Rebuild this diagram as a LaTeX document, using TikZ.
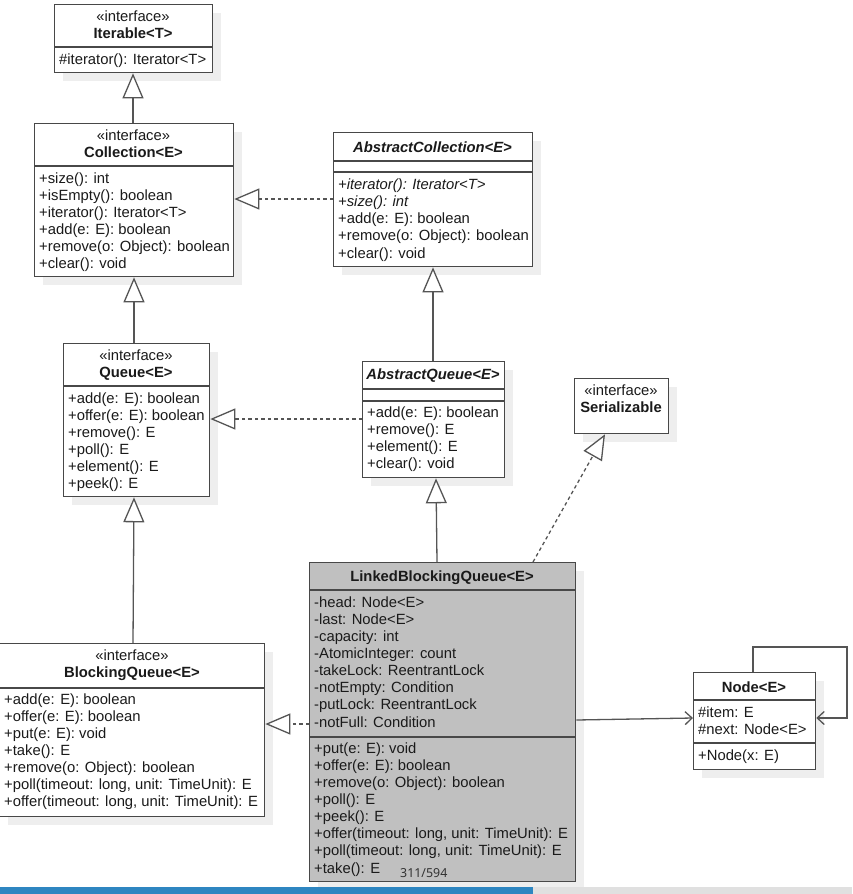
\documentclass[tikz,border=0pt]{standalone}
\usepackage{fontspec}
\setmainfont{Liberation Sans}
\newfontfamily\pagefont{Noto Sans}
\usetikzlibrary{arrows.meta,shadows}
\definecolor{bordc}{HTML}{484848}
\definecolor{linec}{HTML}{555555}
\definecolor{txtc}{HTML}{1A1A1A}
\definecolor{shadc}{HTML}{EEEEEE}
\definecolor{lbqfill}{HTML}{C0C0C0}
\definecolor{barblue}{HTML}{2E86C1}
\definecolor{bargray}{HTML}{E0E0E0}
\tikzset{
  umlbox/.style={draw=bordc, line width=1.3pt, inner sep=0pt, anchor=north west,
    general shadow={fill=shadc, shadow xshift=8pt, shadow yshift=-8pt}},
  divl/.style={draw=bordc, line width=1.3pt},
  txt/.style={inner sep=0pt, text=txtc, font=\fontsize{14.8}{17.2}\selectfont},
  ttl/.style={txt, font=\fontsize{14.8}{17.2}\selectfont\bfseries},
  ittl/.style={txt, font=\fontsize{14.8}{17.2}\selectfont\bfseries\itshape},
  gen/.style={draw=linec, line width=1.3pt, -{Triangle[length=25pt,width=21pt,fill=white,line width=1.3pt]}},
  real/.style={gen, dash pattern=on 3.5pt off 3pt},
  assoc/.style={draw=linec, line width=1.3pt, -{Straight Barb[length=7pt,width=13pt,line width=1.3pt]}}
}
\newcommand\umlrect[6]{\node[umlbox, fill=#6, minimum width={#4-#2}, minimum height={#5-#3}] (#1) at (#2,#3) {};}
\newcommand\umllines[4]{\foreach \t [count=\i] in {#4} \node[txt, anchor=base west] (#3\i) at (#1, {#2+17.15*(\i-1)}) {\t};}
\begin{document}
\begin{tikzpicture}[x=1pt,y=-1pt]
\useasboundingbox (0,0) rectangle (852,894);
% Iterable
\umlrect{iter}{54}{4}{212}{72}{white}
\draw[divl] (54,47) -- (212,47);
\node[txt, anchor=base] (iters) at (133,21) {«interface»};
\node[ttl, anchor=base] (itern) at (133,38) {Iterable<T>};
\umllines{59}{64}{iterm}{{\#iterator(): Iterator<T>}}
% Collection
\umlrect{coll}{34}{123}{233}{276}{white}
\draw[divl] (34,166) -- (233,166);
\node[txt, anchor=base] (colls) at (133.5,140) {«interface»};
\node[ttl, anchor=base] (colln) at (133.5,157) {Collection<E>};
\umllines{39}{183}{collm}{{+size(): int},{+isEmpty(): boolean},{+iterator(): Iterator<T>},{+add(e: E): boolean},{+remove(o: Object): boolean},{+clear(): void}}
% AbstractCollection
\umlrect{acoll}{333}{132}{532}{266}{white}
\draw[divl] (333,161) -- (532,161);
\draw[divl] (333,172) -- (532,172);
\node[ittl, anchor=base] (acolln) at (432.5,152) {AbstractCollection<E>};
\umllines{338}{189.5}{acollm}{{\itshape +iterator(): Iterator<T>},{\itshape +size(): int},{+add(e: E): boolean},{+remove(o: Object): boolean},{+clear(): void}}
% Queue
\umlrect{queue}{63}{343}{209}{496}{white}
\draw[divl] (63,386) -- (209,386);
\node[txt, anchor=base] (queues) at (136,360) {«interface»};
\node[ttl, anchor=base] (queuen) at (136,377) {Queue<E>};
\umllines{68}{403}{queuem}{{+add(e: E): boolean},{+offer(e: E): boolean},{+remove(): E},{+poll(): E},{+element(): E},{+peek(): E}}
% AbstractQueue
\umlrect{absq}{362}{361}{504}{477}{white}
\draw[divl] (362,389) -- (504,389);
\draw[divl] (362,401) -- (504,401);
\node[ittl, anchor=base] (absqn) at (433,379) {AbstractQueue<E>};
\umllines{367}{417}{absqm}{{+add(e: E): boolean},{+remove(): E},{+element(): E},{+clear(): void}}
% Serializable
\umlrect{ser}{574}{378}{668}{433}{white}
\node[txt, anchor=base] (sers) at (621,395) {«interface»};
\node[ttl, anchor=base] (sern) at (621,412) {Serializable};
% LinkedBlockingQueue
\umlrect{lbq}{309}{562}{575}{881}{lbqfill}
\draw[divl] (309,590) -- (575,590);
\draw[divl] (309,737) -- (575,737);
\node[ttl, anchor=base] (lbqn) at (442,581.5) {LinkedBlockingQueue<E>};
\umllines{314}{607}{lbqa}{{-head: Node<E>},{-last: Node<E>},{-capacity: int},{-AtomicInteger: count},{-takeLock: ReentrantLock},{-notEmpty: Condition},{-putLock: ReentrantLock},{-notFull: Condition}}
\umllines{314}{753}{lbqm}{{+put(e: E): void},{+offer(e: E): boolean},{+remove(o: Object): boolean},{+poll(): E},{+peek(): E},{+offer(timeout: long, unit: TimeUnit): E},{+poll(timeout: long, unit: TimeUnit): E},{+take(): E}}
\node[inner sep=0pt, anchor=base west, text=black!80, font=\pagefont\fontsize{12.4}{14}\selectfont] (pgno) at (400,877) {311/594};
% BlockingQueue
\umlrect{bq}{-1}{643}{264}{816}{white}
\draw[divl] (-1,688) -- (264,688);
\node[txt, anchor=base] (bqs) at (132,660) {«interface»};
\node[ttl, anchor=base] (bqn) at (132,677) {BlockingQueue<E>};
\umllines{4}{704}{bqm}{{+add(e: E): boolean},{+offer(e: E): boolean},{+put(e: E): void},{+take(): E},{+remove(o: Object): boolean},{+poll(timeout: long, unit: TimeUnit): E},{+offer(timeout: long, unit: TimeUnit): E}}
% Node
\umlrect{nd}{693}{672}{815}{769}{white}
\draw[divl] (693,700) -- (815,700);
\draw[divl] (693,743) -- (815,743);
\node[ttl, anchor=base] (ndn) at (754,692) {Node<E>};
\umllines{698}{717.5}{nda}{{\#item: E},{\#next: Node<E>}}
\umllines{698}{760}{ndm}{{+Node(x: E)}}
% connectors
\draw[gen] (coll.north -| 133,0) -- (iter.south -| 133,0);
\draw[real] (acoll.west |- 0,199) -- (coll.east |- 0,199);
\draw[gen] (queue.north -| 134,0) -- (coll.south -| 134,0);
\draw[gen] (absq.north -| 433,0) -- (acoll.south -| 433,0);
\draw[real] (absq.west |- 0,419) -- (queue.east |- 0,419);
\draw[gen] (lbq.north -| 437,0) -- (absq.south -| 436,0);
\draw[real] (lbq.north -| 533,0) -- (ser.south -| 605,0);
\draw[gen] (bq.north -| 133,0) -- (queue.south -| 134,0);
\draw[real] (lbq.west |- 0,724) -- (bq.east |- 0,724);
\draw[assoc] (lbq.east |- 0,720) -- (nd.west |- 0,718);
\coordinate (loopa) at (847,647);
\draw[assoc] (nd.north -| 753,0) |- (loopa) |- (nd.east |- 0,718);
% page bar
\fill[barblue] (0,887) rectangle (533,894);
\fill[bargray] (533,887) rectangle (852,894);
\end{tikzpicture}
\end{document}
